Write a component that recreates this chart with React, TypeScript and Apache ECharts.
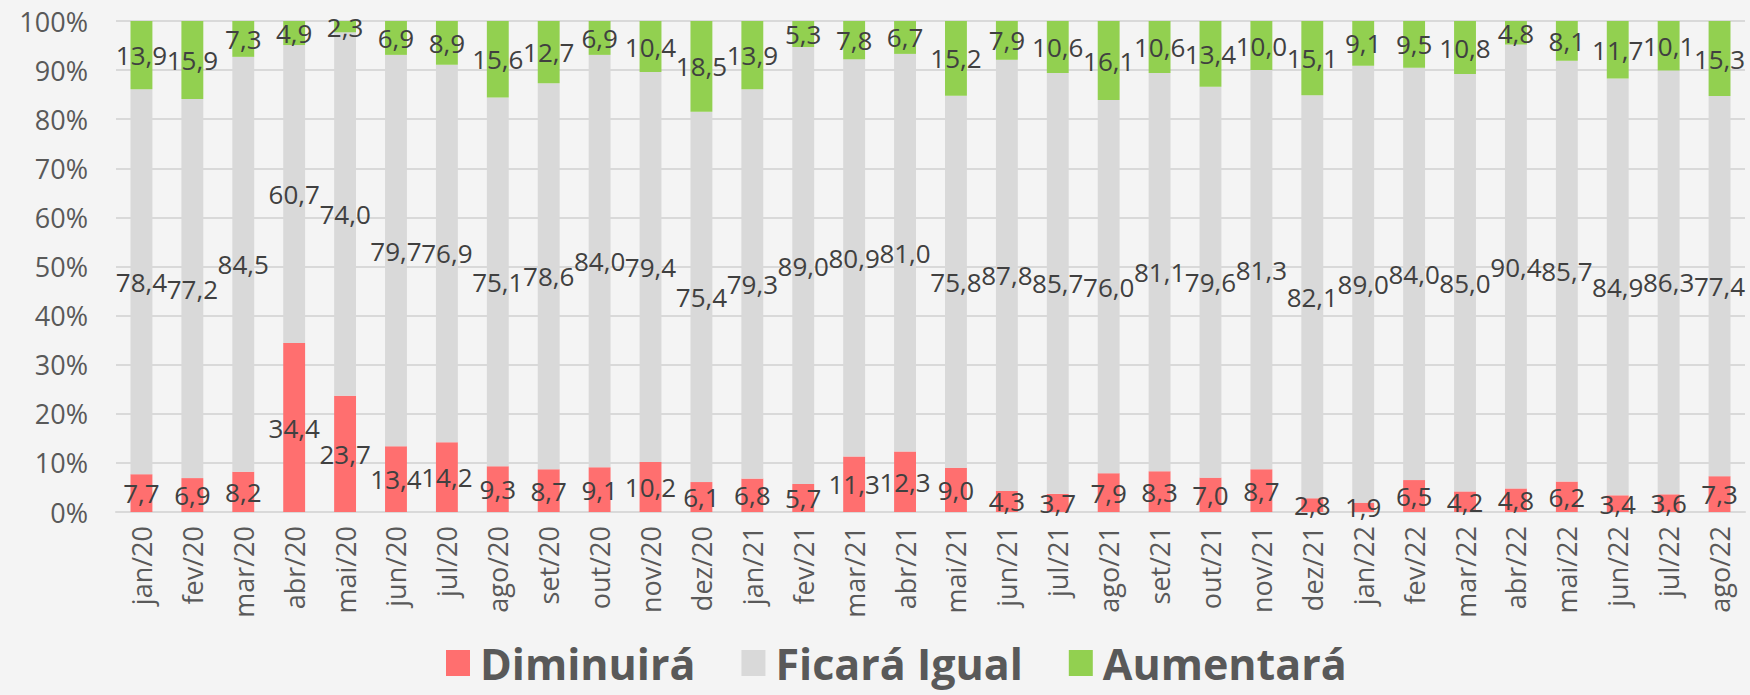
import React, { useEffect, useRef } from "react";
import * as echarts from "echarts";

const categories = [
  "jan/20", "fev/20", "mar/20", "abr/20", "mai/20", "jun/20", "jul/20", "ago/20", "set/20", "out/20", "nov/20", "dez/20",
  "jan/21", "fev/21", "mar/21", "abr/21", "mai/21", "jun/21", "jul/21", "ago/21", "set/21", "out/21", "nov/21", "dez/21",
  "jan/22", "fev/22", "mar/22", "abr/22", "mai/22", "jun/22", "jul/22", "ago/22",
];

const diminuira = [
  7.7, 6.9, 8.2, 34.4, 23.7, 13.4, 14.2, 9.3, 8.7, 9.1, 10.2, 6.1,
  6.8, 5.7, 11.3, 12.3, 9.0, 4.3, 3.7, 7.9, 8.3, 7.0, 8.7, 2.8,
  1.9, 6.5, 4.2, 4.8, 6.2, 3.4, 3.6, 7.3,
];

const ficaraIgual = [
  78.4, 77.2, 84.5, 60.7, 74.0, 79.7, 76.9, 75.1, 78.6, 84.0, 79.4, 75.4,
  79.3, 89.0, 80.9, 81.0, 75.8, 87.8, 85.7, 76.0, 81.1, 79.6, 81.3, 82.1,
  89.0, 84.0, 85.0, 90.4, 85.7, 84.9, 86.3, 77.4,
];

const aumentara = [
  13.9, 15.9, 7.3, 4.9, 2.3, 6.9, 8.9, 15.6, 12.7, 6.9, 10.4, 18.5,
  13.9, 5.3, 7.8, 6.7, 15.2, 7.9, 10.6, 16.1, 10.6, 13.4, 10.0, 15.1,
  9.1, 9.5, 10.8, 4.8, 8.1, 11.7, 10.1, 15.3,
];

const yTicks = { min: 0, max: 100, interval: 10 };

const FONT = "'Open Sans', 'Noto Sans', sans-serif";

export default function App() {
  const ref = useRef<HTMLDivElement>(null);

  useEffect(() => {
    document.body.style.margin = "0";
    if (!ref.current) return;
    const chart = echarts.init(ref.current, null, { renderer: "svg" });

    const label = {
      show: true,
      position: "inside",
      color: "#404040",
      fontSize: 26,
      fontFamily: FONT,
      fontWeight: 400,
      formatter: (p: any) => Number(p.value).toFixed(1).replace(".", ","),
    };

    const mk = (name: string, data: number[], color: string) => ({
      name,
      type: "bar",
      stack: "total",
      data,
      barWidth: "43%",
      itemStyle: { color },
      label,
      emphasis: { disabled: true },
    });

    chart.setOption({
      animation: false,
      backgroundColor: "#f4f4f4",
      textStyle: { fontFamily: FONT },
      grid: { left: 116, right: 5, top: 21, bottom: 183, containLabel: false },
      legend: {
        top: 641,
        left: 446,
        padding: 0,
        itemWidth: 24,
        itemHeight: 26,
        itemGap: 46,
        icon: "rect",
        textStyle: {
          fontSize: 43,
          lineHeight: 44,
          fontWeight: 700,
          color: "#595959",
          fontFamily: FONT,
          padding: [0, 0, 0, 5],
        },
        data: ["Diminuirá", "Ficará Igual", "Aumentará"],
      },
      xAxis: {
        type: "category",
        data: categories,
        axisTick: { show: false },
        axisLine: { lineStyle: { color: "#d9d9d9", width: 2 } },
        axisLabel: {
          rotate: 90,
          margin: 14,
          fontSize: 27,
          color: "#595959",
          fontFamily: FONT,
          interval: 0,
        },
      },
      yAxis: {
        type: "value",
        min: yTicks.min,
        max: yTicks.max,
        interval: yTicks.interval,
        axisLabel: {
          formatter: "{value}%",
          fontSize: 27,
          color: "#595959",
          margin: 28,
          fontFamily: FONT,
        },
        axisLine: { show: false },
        axisTick: { show: false },
        splitLine: { lineStyle: { color: "#d9d9d9", width: 2 } },
      },
      series: [
        mk("Diminuirá", diminuira, "#ff6f6f"),
        mk("Ficará Igual", ficaraIgual, "#d9d9d9"),
        mk("Aumentará", aumentara, "#92d050"),
      ],
    });

    return () => chart.dispose();
  }, []);

  return <div ref={ref} style={{ width: 1750, height: 695 }} />;
}
